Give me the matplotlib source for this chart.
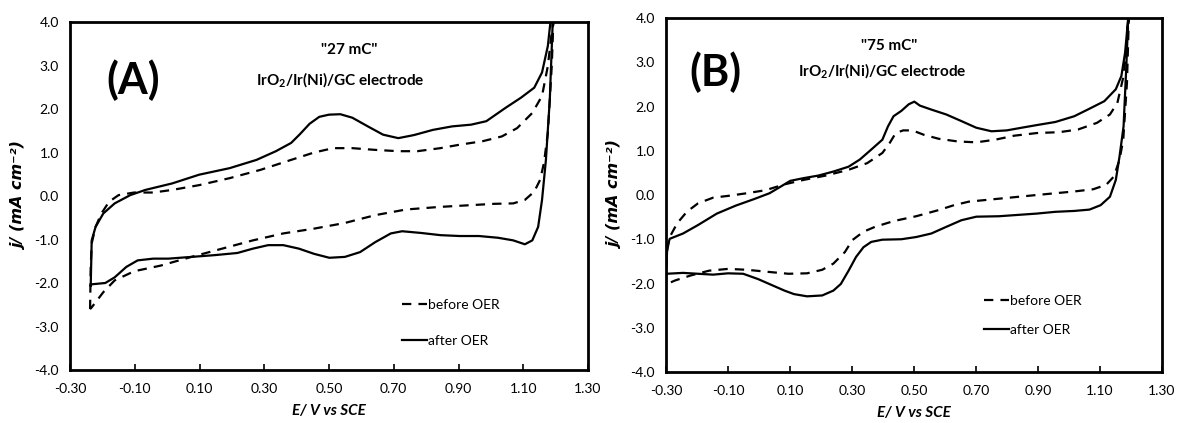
import matplotlib
matplotlib.use("Agg")
import matplotlib.pyplot as plt

plt.rcParams['font.family'] = ['Lato', 'DejaVu Sans']
plt.rcParams['mathtext.fontset'] = 'custom'
plt.rcParams['mathtext.rm'] = 'Lato:bold'
plt.rcParams['mathtext.bf'] = 'Lato:bold'

# ---------------- Panel A data ----------------
a_after_E = [-0.236, -0.233, -0.221, -0.197, -0.162, -0.114, -0.067, 0.016, 0.099, 0.193, 0.276, 0.336,
             0.383, 0.410, 0.440, 0.470, 0.500, 0.535, 0.572, 0.620, 0.667, 0.714, 0.762, 0.821, 0.880, 0.939, 0.986,
             1.046, 1.093, 1.134, 1.158, 1.176, 1.184, 1.191,
             1.182, 1.170, 1.158, 1.146, 1.128, 1.105, 1.069, 1.022, 0.963, 0.904, 0.844, 0.785, 0.726,
             0.691, 0.643, 0.596, 0.549, 0.501, 0.454, 0.407, 0.359, 0.312, 0.265, 0.217, 0.146, 0.075,
             0.004, -0.043, -0.091, -0.126, -0.162, -0.191, -0.233, -0.236]
a_after_j = [-2.06, -1.02, -0.71, -0.40, -0.17, 0.02, 0.14, 0.29, 0.49, 0.64, 0.83, 1.03,
             1.22, 1.42, 1.66, 1.82, 1.87, 1.88, 1.80, 1.60, 1.41, 1.33, 1.40, 1.52, 1.60, 1.64, 1.72,
             2.03, 2.26, 2.49, 2.84, 3.45, 4.00, 4.00,
             2.22, 0.83, -0.09, -0.71, -1.02, -1.11, -1.02, -0.96, -0.92, -0.92, -0.90, -0.85, -0.81,
             -0.86, -1.06, -1.29, -1.40, -1.42, -1.33, -1.21, -1.13, -1.13, -1.21, -1.31, -1.36, -1.40,
             -1.44, -1.44, -1.48, -1.63, -1.87, -2.00, -2.03, -2.06]

a_before_E = [-0.238, -0.236, -0.233, -0.221, -0.203, -0.179, -0.150, -0.102, -0.043, 0.016, 0.099, 0.193,
              0.288, 0.383, 0.454, 0.513, 0.572, 0.643, 0.714, 0.773, 0.844, 0.904, 0.975, 1.034, 1.081,
              1.128, 1.158, 1.176, 1.188, 1.193,
              1.188, 1.176, 1.164, 1.152, 1.134, 1.105, 1.069, 1.010, 0.939, 0.844, 0.738, 0.643, 0.549,
              0.454, 0.359, 0.265, 0.170, 0.075, -0.020, -0.102, -0.162, -0.197, -0.233, -0.238]
a_before_j = [-2.60, -1.63, -1.09, -0.71, -0.40, -0.13, 0.02, 0.08, 0.08, 0.14, 0.25, 0.41,
              0.60, 0.83, 1.00, 1.10, 1.10, 1.06, 1.03, 1.03, 1.10, 1.18, 1.26, 1.37, 1.56,
              1.91, 2.30, 2.99, 3.76, 4.00,
              2.99, 1.45, 0.76, 0.37, 0.10, -0.09, -0.17, -0.18, -0.21, -0.25, -0.31, -0.44, -0.62,
              -0.75, -0.86, -1.02, -1.21, -1.40, -1.60, -1.73, -1.94, -2.21, -2.56, -2.60]

# ---------------- Panel B data ----------------
b_after_E = [-0.300, -0.298, -0.296, -0.288, -0.245, -0.197, -0.136, -0.075, -0.015, 0.034, 0.070, 0.101,
             0.143, 0.192, 0.240, 0.289, 0.325, 0.361, 0.398, 0.416, 0.434, 0.459, 0.483, 0.501,
             0.519, 0.556, 0.604, 0.653, 0.701, 0.750, 0.799, 0.847, 0.896, 0.956, 1.017, 1.066,
             1.114, 1.151, 1.169, 1.181, 1.191,
             1.185, 1.176, 1.163, 1.151, 1.132, 1.102, 1.066, 1.017, 0.956, 0.896, 0.835, 0.774,
             0.701, 0.653, 0.604, 0.556, 0.507, 0.459, 0.398, 0.362, 0.337, 0.313, 0.289, 0.264,
             0.240, 0.204, 0.155, 0.113, 0.082, 0.046, -0.003, -0.051, -0.100, -0.148, -0.197,
             -0.245, -0.298, -0.300]
b_after_j = [-1.78, -1.50, -1.18, -0.99, -0.87, -0.68, -0.42, -0.24, -0.09, 0.04, 0.19, 0.32,
             0.38, 0.44, 0.53, 0.64, 0.80, 1.02, 1.25, 1.55, 1.78, 1.90, 2.05, 2.11,
             2.02, 1.93, 1.82, 1.67, 1.52, 1.44, 1.46, 1.52, 1.58, 1.65, 1.78, 1.95,
             2.12, 2.39, 2.69, 3.22, 4.00,
             2.92, 1.55, 0.87, 0.34, -0.04, -0.23, -0.33, -0.36, -0.38, -0.42, -0.45, -0.48,
             -0.49, -0.57, -0.72, -0.87, -0.95, -1.00, -1.01, -1.06, -1.18, -1.40, -1.71, -2.01,
             -2.16, -2.27, -2.29, -2.24, -2.16, -2.05, -1.90, -1.78, -1.77, -1.80, -1.78,
             -1.76, -1.78, -1.78]

b_before_E = [-0.300, -0.298, -0.288, -0.264, -0.233, -0.197, -0.148, -0.100, -0.039, 0.022, 0.082, 0.143,
              0.216, 0.289, 0.349, 0.398, 0.422, 0.441, 0.465, 0.495, 0.532, 0.580, 0.641, 0.701,
              0.762, 0.823, 0.896, 0.969, 1.029, 1.090, 1.132, 1.156, 1.176, 1.188, 1.193,
              1.187, 1.175, 1.163, 1.145, 1.120, 1.078, 1.017, 0.956, 0.896, 0.823, 0.750, 0.677,
              0.629, 0.580, 0.507, 0.434, 0.374, 0.337, 0.301, 0.277, 0.240, 0.204, 0.155, 0.095,
              0.034, -0.039, -0.100, -0.161, -0.221, -0.270, -0.300]
b_before_j = [-2.00, -1.33, -0.95, -0.64, -0.38, -0.19, -0.06, -0.02, 0.04, 0.11, 0.24, 0.34,
              0.44, 0.57, 0.72, 0.95, 1.18, 1.40, 1.46, 1.46, 1.36, 1.27, 1.21, 1.19,
              1.25, 1.34, 1.40, 1.42, 1.48, 1.63, 1.82, 2.08, 2.69, 3.53, 4.00,
              2.54, 1.25, 0.80, 0.42, 0.23, 0.13, 0.08, 0.04, 0.00, -0.05, -0.10, -0.15,
              -0.23, -0.34, -0.48, -0.59, -0.72, -0.83, -1.02, -1.29, -1.55, -1.69, -1.77, -1.78,
              -1.74, -1.69, -1.67, -1.71, -1.82, -1.93, -2.02]

x_ticks = [-0.30, -0.10, 0.10, 0.30, 0.50, 0.70, 0.90, 1.10, 1.30]
y_ticks = [-4.0, -3.0, -2.0, -1.0, 0.0, 1.0, 2.0, 3.0, 4.0]
panel_letters = ["(A)", "(B)"]
charge_labels = ['"27 mC"', '"75 mC"']
electrode_label = r"IrO$_2$/Ir(Ni)/GC electrode"
series_names = ["before OER", "after OER"]

W, H = 1177, 423
fig = plt.figure(figsize=(W / 100, H / 100), dpi=100)

def px_axes(l, r, t, b):
    return fig.add_axes([l / W, 1 - b / H, (r - l) / W, (b - t) / H])

axA = px_axes(70, 588, 22, 370)
axB = px_axes(666, 1162, 18, 372)

panels = [
    (axA, a_before_E, a_before_j, a_after_E, a_after_j, (133, 80), (349, 50), (340, 80),
     (0.630, 0.050, 1.75)),
    (axB, b_before_E, b_before_j, b_after_E, b_after_j, (715, 72), (889, 46), (882, 71),
     (0.629, 0.085, 1.25)),
]

for i, (ax, bE, bj, aE, aj, lett, chg, elec, leg) in enumerate(panels):
    ax.plot(bE, bj, color='black', lw=1.6, ls=(0, (4.2, 3.2)), label=series_names[0])
    ax.plot(aE, aj, color='black', lw=1.6, ls='-', label=series_names[1])
    ax.set_xlim(-0.30, 1.30)
    ax.set_ylim(-4.0, 4.0)
    ax.set_xticks(x_ticks)
    ax.set_xticklabels([f"{v:.2f}" for v in x_ticks])
    ax.set_yticks(y_ticks)
    ax.set_yticklabels([f"{v:.1f}" for v in y_ticks])
    ax.tick_params(axis='x', direction='in', length=4, width=1.2, labelsize=10, pad=9)
    ax.tick_params(axis='y', length=0, labelsize=10, pad=8)
    for s in ax.spines.values():
        s.set_linewidth(2)
    ax.set_xlabel("E/ V vs SCE", fontsize=11, fontweight='bold', fontstyle='italic', labelpad=7)
    ax.set_ylabel("j/ (mA cm⁻²)", fontsize=11.5, fontweight='bold', fontstyle='italic',
                  family='DejaVu Sans', labelpad=5)
    fig.text(lett[0] / W, 1 - lett[1] / H, panel_letters[i], fontsize=31, fontweight='bold',
             ha='center', va='center')
    fig.text(chg[0] / W, 1 - chg[1] / H, charge_labels[i], fontsize=11, fontweight='bold',
             ha='center', va='center')
    fig.text(elec[0] / W, 1 - elec[1] / H, electrode_label, fontsize=11, fontweight='bold',
             ha='center', va='center')
    lxf, lyf, lsp = leg
    ax.legend(loc='lower left', bbox_to_anchor=(lxf, lyf),
              frameon=False, fontsize=10, handlelength=1.8, handletextpad=0.1, labelspacing=lsp,
              borderaxespad=0.0)

fig.savefig("out.png", dpi=100)
